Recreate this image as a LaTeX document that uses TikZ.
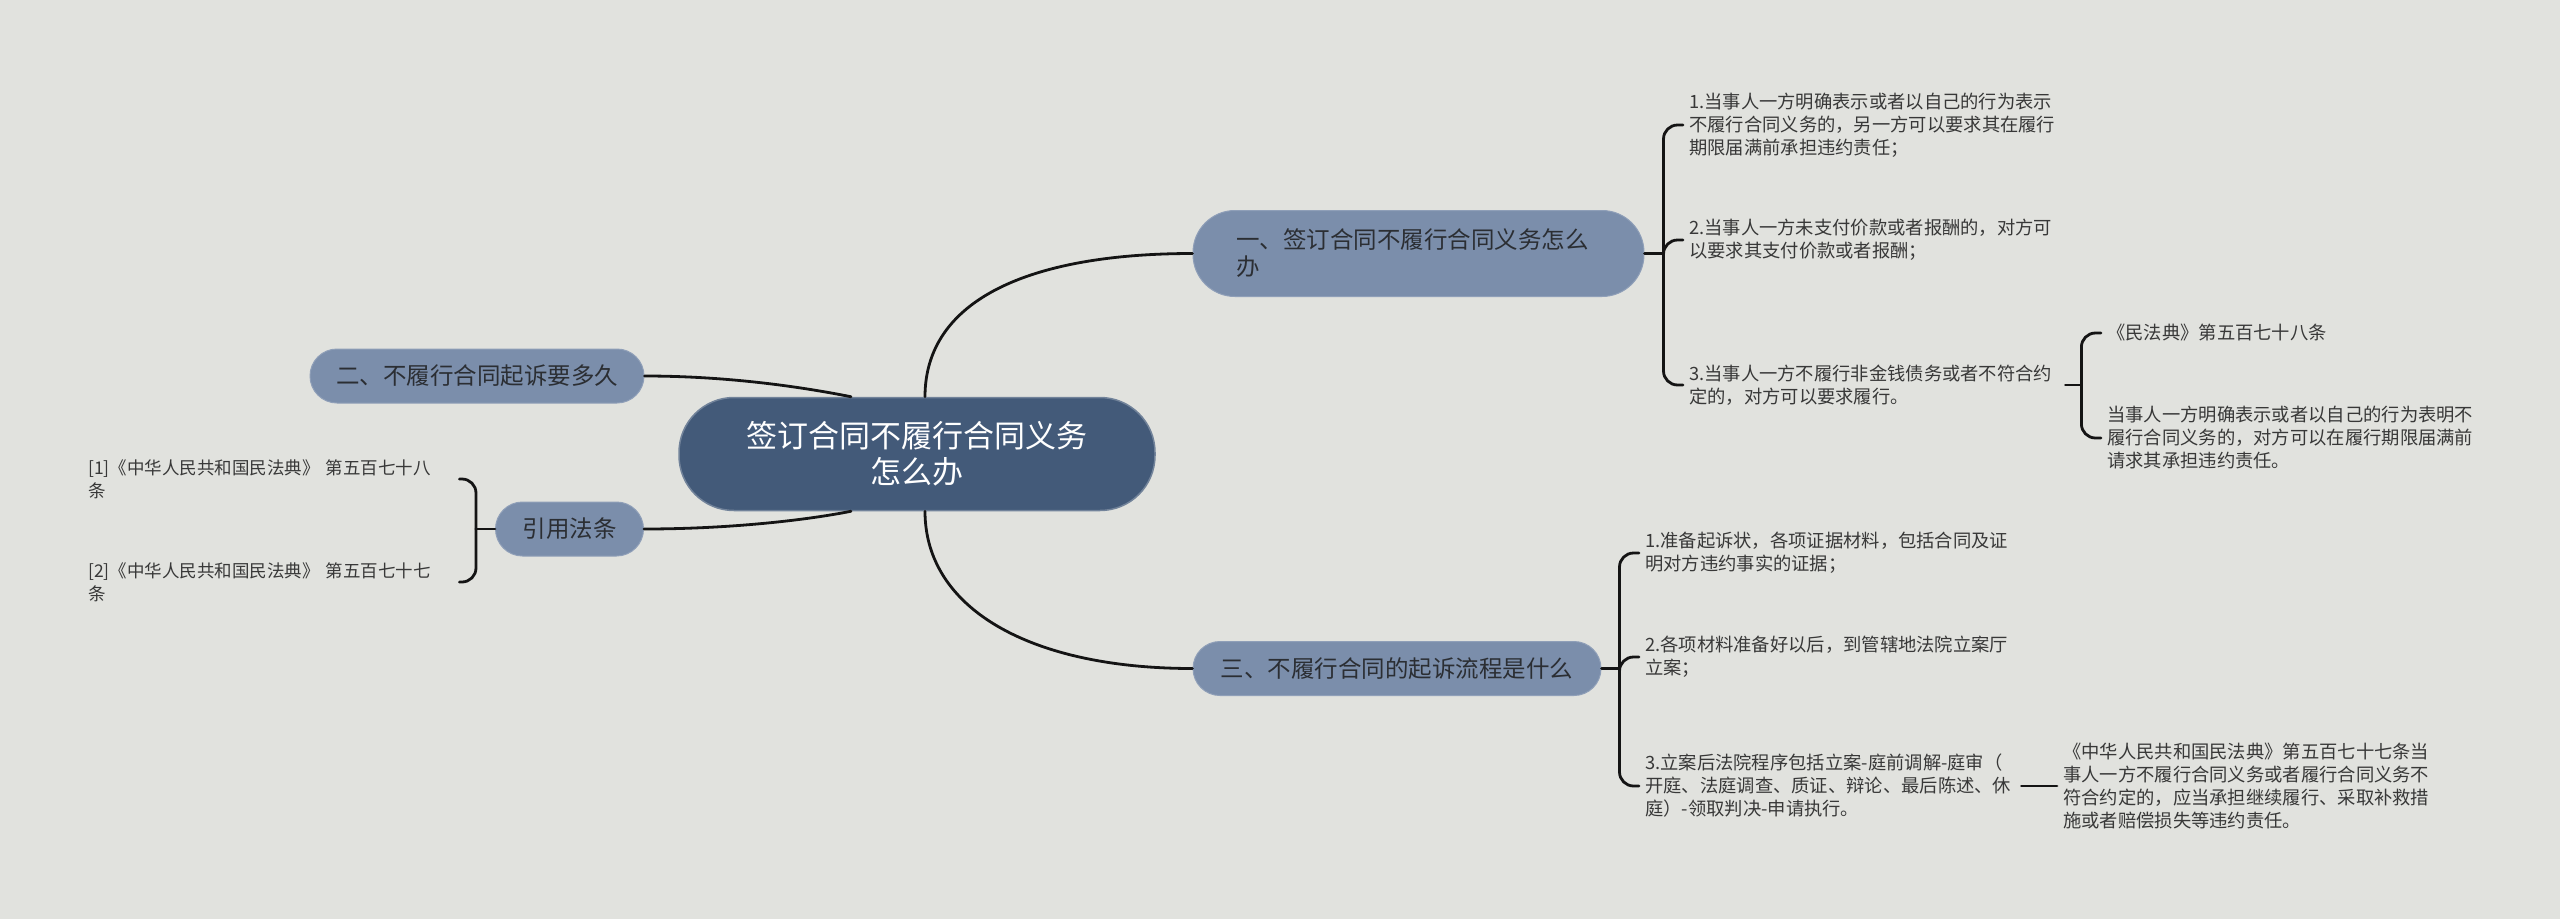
\documentclass[tikz,border=0pt]{standalone}
\usepackage{fontspec}
\newfontfamily\cjk{Noto Sans CJK SC}
\usetikzlibrary{arrows.meta}

\definecolor{bgc}{HTML}{E1E2DE}
\definecolor{rootc}{HTML}{435A79}
\definecolor{topicc}{HTML}{7B8EAB}
\definecolor{inkc}{HTML}{2B2E33}
\definecolor{leafc}{HTML}{383838}

\tikzset{
  rootbox/.style={fill=rootc, draw=rootc!75!white, line width=1.5pt, rounded corners=55pt,
    minimum width=476pt, minimum height=113pt, text=white, align=center,
    font=\cjk\fontsize{31}{36}\selectfont},
  topicbox/.style={fill=topicc, draw=topicc!85!white, line width=1pt, rounded corners=27pt,
    minimum height=54pt, text=inkc, font=\cjk\fontsize{23.5}{27}\selectfont},
  leaf/.style={anchor=west, align=left, text=leafc, inner xsep=6pt, text width=370pt,
    font=\cjk\fontsize{18.3}{23}\selectfont},
  refleaf/.style={leaf, text width=365pt, font=\cjk\fontsize{17.5}{23}\selectfont},
  link/.style={line width=2.8pt, draw=black!92, line cap=round}
}

\begin{document}
\begin{tikzpicture}[x=1pt,y=-1pt]
  \fill[bgc] (0,0) rectangle (2560,919);
  \useasboundingbox (0,0) rectangle (2560,919);

  % centre and main topics
  \node[rootbox] (main) at (917,454) {签订合同不履行合同义务\\怎么办};
  \node[topicbox, rounded corners=42pt, minimum width=451pt, minimum height=86pt,
    text width=365pt, align=left, inner xsep=43pt] (q1) at (1418.5,253.5) {一、签订合同不履行合同义务怎么\\办};
  \node[topicbox, minimum width=334pt] (q2) at (477,376) {二、不履行合同起诉要多久};
  \node[topicbox, minimum width=148pt] (ref) at (569.5,529) {引用法条};
  \node[topicbox, minimum width=408pt] (q3) at (1397,668.5) {三、不履行合同的起诉流程是什么};

  % leaves of topic one
  \node[leaf] (q1a) at (1683,125) {1.当事人一方明确表示或者以自己的行为表示\\不履行合同义务的，另一方可以要求其在履行\\期限届满前承担违约责任；};
  \node[leaf] (q1b) at (1683,240) {2.当事人一方未支付价款或者报酬的，对方可\\以要求其支付价款或者报酬；};
  \node[leaf] (q1c) at (1683,385) {3.当事人一方不履行非金钱债务或者不符合约\\定的，对方可以要求履行。};
  \node[leaf] (q1c1) at (2101,333) {《民法典》第五百七十八条};
  \node[leaf] (q1c2) at (2101,438) {当事人一方明确表示或者以自己的行为表明不\\履行合同义务的，对方可以在履行期限届满前\\请求其承担违约责任。};

  % leaves of topic three
  \node[leaf] (q3a) at (1639,553) {1.准备起诉状，各项证据材料，包括合同及证\\明对方违约事实的证据；};
  \node[leaf] (q3b) at (1639,657) {2.各项材料准备好以后，到管辖地法院立案厅\\立案；};
  \node[leaf] (q3c) at (1639,786) {3.立案后法院程序包括立案-庭前调解-庭审（\\开庭、法庭调查、质证、辩论、最后陈述、休\\庭）-领取判决-申请执行。};
  \node[leaf] (q3c1) at (2057,786) {《中华人民共和国民法典》第五百七十七条当\\事人一方不履行合同义务或者履行合同义务不\\符合约定的，应当承担继续履行、采取补救措\\施或者赔偿损失等违约责任。};

  % references
  \node[refleaf] (refa) at (82,479) {[1]《中华人民共和国民法典》 第五百七十八\\条};
  \node[refleaf] (refb) at (82,582) {[2]《中华人民共和国民法典》 第五百七十七\\条};

  % junctions of the brackets
  \coordinate (j1) at ([xshift=19pt]q1.east);
  \coordinate (j3) at ([xshift=18pt]q3.east);
  \coordinate (jr) at ([xshift=-19pt]ref.west);
  \coordinate (jc) at ([xshift=16pt]q1c.east);

  % main links
  \draw[link] ([xshift=8pt]main.north) .. controls +(0,-97) and +(-163,0) .. (q1.west);
  \draw[link] ([xshift=8pt]main.south) .. controls +(0,97) and +(-163,0) .. (q3.west);
  \draw[link] (q2.east) .. controls +(90,0) and +(-40,-8) .. ([xshift=-66pt]main.north);
  \draw[link] (ref.east) .. controls +(90,0) and +(-40,8) .. ([xshift=-66pt]main.south);

  % brackets
  \draw[link] (q1.east) -- (j1);
  \foreach \k in {q1a,q1b,q1c}
    \draw[link, rounded corners=14pt] (j1) |- (\k.west);
  \draw[link] (q1c.east) -- (jc);
  \foreach \k in {q1c1,q1c2}
    \draw[link, rounded corners=14pt] (jc) |- (\k.west);
  \draw[link] (q3.east) -- (j3);
  \foreach \k in {q3a,q3b,q3c}
    \draw[link, rounded corners=14pt] (j3) |- (\k.west);
  \draw[link] (q3c.east) -- (q3c1.west);
  \draw[link] (ref.west) -- (jr);
  \foreach \k in {refa,refb}
    \draw[link, rounded corners=14pt] (jr) |- (\k.east);
\end{tikzpicture}
\end{document}
